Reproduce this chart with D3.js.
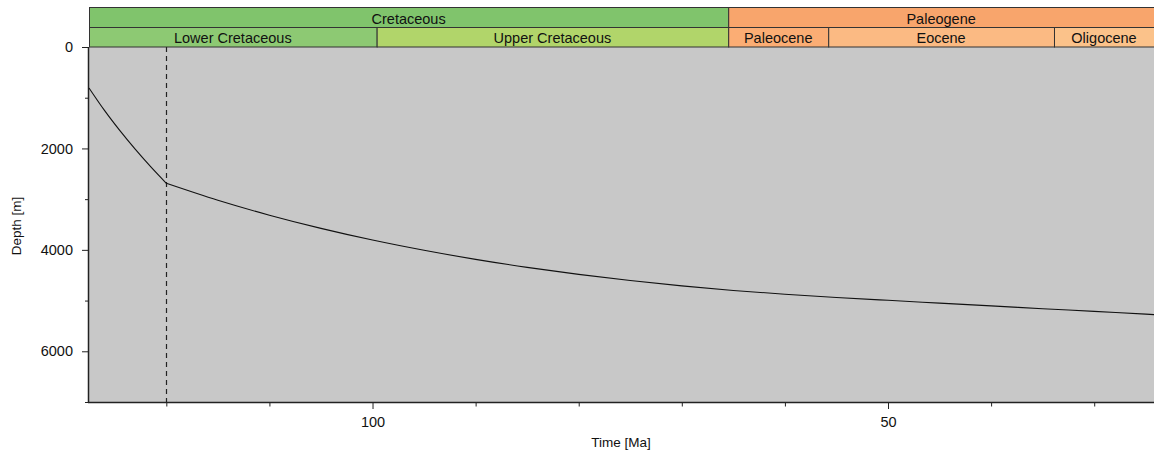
<!DOCTYPE html>
<html><head><meta charset="utf-8">
<script src="https://cdn.jsdelivr.net/npm/d3@7"></script>
<style>
html,body{margin:0;padding:0;background:#fff;}
text{font-family:"Liberation Sans",Arial,sans-serif;fill:#111;}
</style></head>
<body><svg id="chart" width="1154" height="453"></svg>
<script>
// ---- data ----
const timeMa  = [127.5, 126, 124.5, 123, 121.5, 120, 115, 110, 105, 100, 95, 90, 85, 80, 75, 70, 65, 60, 55, 50, 45, 40, 35, 30, 25, 23.03];
const depthM  = [808, 1250, 1650, 2020, 2365, 2688, 3022, 3316, 3576, 3806, 4008, 4187, 4345, 4484, 4605, 4710, 4800, 4875, 4938, 4995, 5050, 5105, 5160, 5213, 5268, 5288];
const markerTime = 120;

const periodNames = ["Cretaceous", "Paleogene"];
const periodStart = [145.5, 65.5];
const periodEnd   = [65.5, 23.03];
const periodColors = ["#80c46c", "#f8a56c"];

const epochNames = ["Lower Cretaceous", "Upper Cretaceous", "Paleocene", "Eocene", "Oligocene"];
const epochStart = [145.5, 99.6, 65.5, 55.8, 33.9];
const epochEnd   = [99.6, 65.5, 55.8, 33.9, 23.03];
const epochColors = ["#8dc973", "#b1d56a", "#fbad74", "#fbba83", "#fbc28a"];

const xTickValues = [120, 110, 100, 90, 80, 70, 60, 50, 40, 30];
const xTickLabels = [100, 50];
const yTickValues = [0, 1000, 2000, 3000, 4000, 5000, 6000, 7000];
const yTickLabels = [0, 2000, 4000, 6000];

// ---- layout ----
const W = 1154, H = 453;
const L = 89, R = 1154, T = 47, B = 402;
const svg = d3.select("#chart");
const x = d3.scaleLinear().domain([127.5, 24.2]).range([L, R]);
const y = d3.scaleLinear().domain([0, 7000]).range([T, B]);

// plot background
svg.append("rect").attr("x", L).attr("y", T).attr("width", R - L).attr("height", B - T).attr("fill", "#c8c8c8");

// header bands
function band(names, starts, ends, colors, y0, h) {
  const g = svg.append("g");
  names.forEach((n, i) => {
    const x0 = Math.max(L, x(starts[i])), x1 = Math.min(W + 5, x(ends[i]));
    g.append("rect").attr("x", x0 + 0.5).attr("y", y0 + 0.5).attr("width", x1 - x0).attr("height", h)
      .attr("fill", colors[i]).attr("stroke", "#333").attr("stroke-width", 1);
    const cx = (x0 + Math.min(W, x1)) / 2;
    g.append("text").attr("x", cx).attr("y", y0 + h - 3.5).attr("text-anchor", "middle")
      .style("font-size", "14.5px").text(n);
  });
}
band(periodNames, periodStart, periodEnd, periodColors, 7, 20);
band(epochNames, epochStart, epochEnd, epochColors, 27, 19.5);

// axes
const xAxis = d3.axisBottom(x).tickValues(xTickValues)
  .tickSize(4).tickFormat(d => xTickLabels.includes(d) ? d : "");
const gx = svg.append("g").attr("transform", `translate(0,${B})`).call(xAxis);
gx.select(".domain").remove();
gx.selectAll(".tick line").attr("stroke", "#222").attr("y1", 1)
  .attr("y2", d => xTickLabels.includes(d) ? 7 : 4.5);
gx.selectAll(".tick text").attr("y", 15).attr("dy", "0.71em").style("font-size", "14.5px").attr("fill", "#111");

const yAxis = d3.axisLeft(y).tickValues(yTickValues)
  .tickSize(4).tickFormat(d => yTickLabels.includes(d) ? d : "");
const gy = svg.append("g").attr("transform", `translate(${L},0)`).call(yAxis);
gy.select(".domain").remove();
gy.selectAll(".tick line").attr("stroke", "#222").attr("x2", d => yTickLabels.includes(d) ? -7 : -4);
gy.selectAll(".tick text").attr("x", -16).style("font-size", "14.5px").attr("fill", "#111");

// axis lines
svg.append("line").attr("x1", L - 0.5).attr("x2", L - 0.5).attr("y1", T).attr("y2", B + 1).attr("stroke", "#222").attr("stroke-width", 1.5);
svg.append("line").attr("x1", L - 1).attr("x2", R).attr("y1", B + 0.5).attr("y2", B + 0.5).attr("stroke", "#222").attr("stroke-width", 1.5);

// axis titles
svg.append("text").attr("x", 621).attr("y", 447).attr("text-anchor", "middle")
  .style("font-size", "13.5px").text("Time [Ma]");
svg.append("text").attr("transform", "translate(21,226) rotate(-90)").attr("text-anchor", "middle")
  .style("font-size", "13.5px").text("Depth [m]");

// marker dashed line
svg.append("line").attr("x1", Math.round(x(markerTime)) + 0.5).attr("x2", Math.round(x(markerTime)) + 0.5)
  .attr("y1", T).attr("y2", B).attr("stroke", "#222").attr("stroke-width", 1.2).attr("stroke-dasharray", "5,4");

// curve (two segments split at marker)
const pts = timeMa.map((t, i) => [t, depthM[i]]);
const line = d3.line().x(d => x(d[0])).y(d => y(d[1])).curve(d3.curveMonotoneX);
const seg1 = pts.filter(d => d[0] >= markerTime);
const seg2 = pts.filter(d => d[0] <= markerTime);
[seg1, seg2].forEach(s => svg.append("path").attr("d", line(s)).attr("fill", "none")
  .attr("stroke", "#111").attr("stroke-width", 1.1));
</script></body></html>
